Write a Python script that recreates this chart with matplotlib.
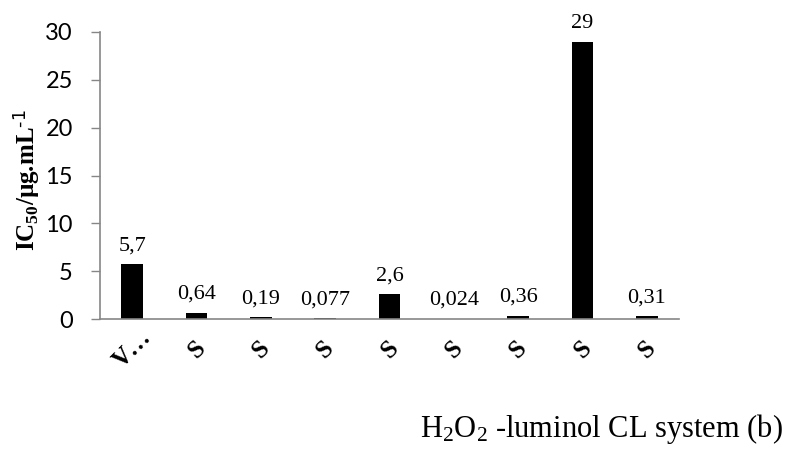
import matplotlib
matplotlib.use("Agg")
import matplotlib.pyplot as plt

categories = ["V…", "S", "S", "S", "S", "S", "S", "S", "S"]
values = [5.7, 0.64, 0.19, 0.077, 2.6, 0.024, 0.36, 29, 0.31]
value_labels = ["5,7", "0,64", "0,19", "0,077", "2,6", "0,024", "0,36", "29", "0,31"]
yticks = [0, 5, 10, 15, 20, 25, 30]

plt.rcParams['mathtext.default'] = 'regular'

fig = plt.figure(figsize=(7.97, 4.49), dpi=100)
ax = fig.add_axes([100/797, 1 - 319/449, 579/797, (319-32)/449])

x = list(range(len(values)))
ax.bar(x, values, width=0.34, color='black')
ax.set_xlim(-0.5, len(values) - 0.5)
ax.set_ylim(0, 30)
ax.set_yticks(yticks)
ax.set_yticklabels([str(t) for t in yticks], fontfamily='Lato', fontsize=17)

for xi, v, lab in zip(x, values, value_labels):
    ax.annotate(lab, (xi, v), xytext=(0, 10), textcoords='offset points',
                ha='center', va='baseline', fontfamily='Liberation Serif', fontsize=16)

ax.set_xticks(x)
ax.set_xticklabels(categories, rotation=45, ha='center', va='center',
                   fontfamily='Liberation Serif', fontweight='bold', fontsize=18)
ax.tick_params(axis='x', length=0, pad=22)
ax.tick_params(axis='y', length=6.5, width=1, color='#868686', pad=13)

for s in ['top', 'right']:
    ax.spines[s].set_visible(False)
for s in ['left', 'bottom']:
    ax.spines[s].set_color('#868686')
    ax.spines[s].set_linewidth(1.2)

ax.set_ylabel(r'IC$_{50}$/µg.mL$^{\text{-1}}$', fontfamily='Liberation Serif',
              fontweight='bold', fontsize=18)
ax.yaxis.set_label_coords(-0.1, 0.485)

fig.text(420/797, (449-437)/449, 'H$_2$O$_2$ -luminol CL system (b)',
         fontfamily='Liberation Serif', fontsize=22, ha='left', va='baseline')

fig.savefig('out.png', dpi=100)
